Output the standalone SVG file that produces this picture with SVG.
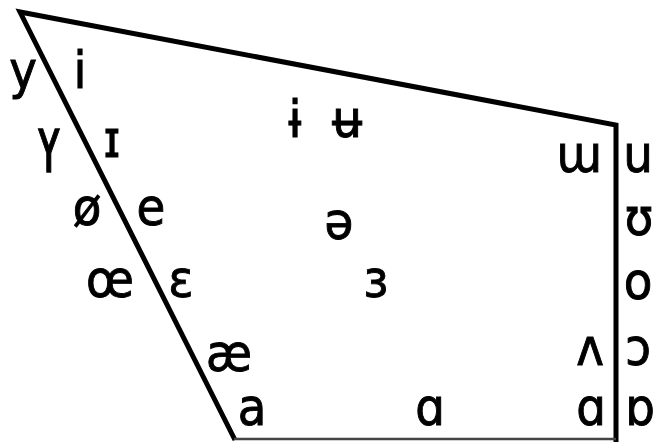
<svg xmlns="http://www.w3.org/2000/svg" width="662" height="442" viewBox="0 0 662 442">
<style>
.v{font-family:"DejaVu Sans Condensed","DejaVu Sans","Noto Sans",sans-serif;font-stretch:condensed;font-size:52px;fill:#000;stroke:#000;stroke-width:0.9;text-anchor:middle}
.edge{fill:none;stroke:#000;stroke-width:5;stroke-linejoin:miter}
.base{fill:none;stroke:#444;stroke-width:2.5}
</style>
<rect width="662" height="442" fill="#fff"/>
<g id="outline">
<polyline class="edge" points="235,440 20,12 616,125 616,442"/>
<line class="base" x1="234" y1="439" x2="616" y2="439"/>
</g>
<g id="v-y"><text class="v" x="23" y="88">y</text></g>
<g id="v-i"><text class="v" x="80" y="88">i</text></g>
<g id="v-Y"><text class="v" transform="translate(49,172) scale(0.9,1.5)">ʏ</text></g>
<g id="v-I"><text class="v" x="112" y="157">ɪ</text></g>
<g id="v-oslash"><text class="v" x="87" y="225">ø</text></g>
<g id="v-e"><text class="v" x="151" y="225">e</text></g>
<g id="v-oe"><text class="v" x="110" y="297">œ</text></g>
<g id="v-eps"><text class="v" x="181" y="297">ɛ</text></g>
<g id="v-ae"><text class="v" x="229" y="371">æ</text></g>
<g id="v-a"><text class="v" x="252" y="425">a</text></g>
<g id="v-alpha-c"><text class="v" x="430" y="425">ɑ</text></g>
<g id="v-alpha-b"><text class="v" x="591" y="425">ɑ</text></g>
<g id="v-turnalpha"><text class="v" x="640" y="425">ɒ</text></g>
<g id="v-wedge"><text class="v" x="590" y="365">ʌ</text></g>
<g id="v-openo"><text class="v" x="638" y="365">ɔ</text></g>
<g id="v-o"><text class="v" x="638" y="299">o</text></g>
<g id="v-upsilon"><text class="v" x="639" y="235">ʊ</text></g>
<g id="v-u"><text class="v" x="638" y="172">u</text></g>
<g id="v-turnm"><text class="v" x="579" y="172">ɯ</text></g>
<g id="v-ibar"><text class="v" x="295" y="137">ɨ</text></g>
<g id="v-ubar"><text class="v" x="347" y="137">ʉ</text></g>
<g id="v-schwa"><text class="v" x="339" y="239">ə</text></g>
<g id="v-revE"><text class="v" x="376" y="297">ɜ</text></g>
</svg>
